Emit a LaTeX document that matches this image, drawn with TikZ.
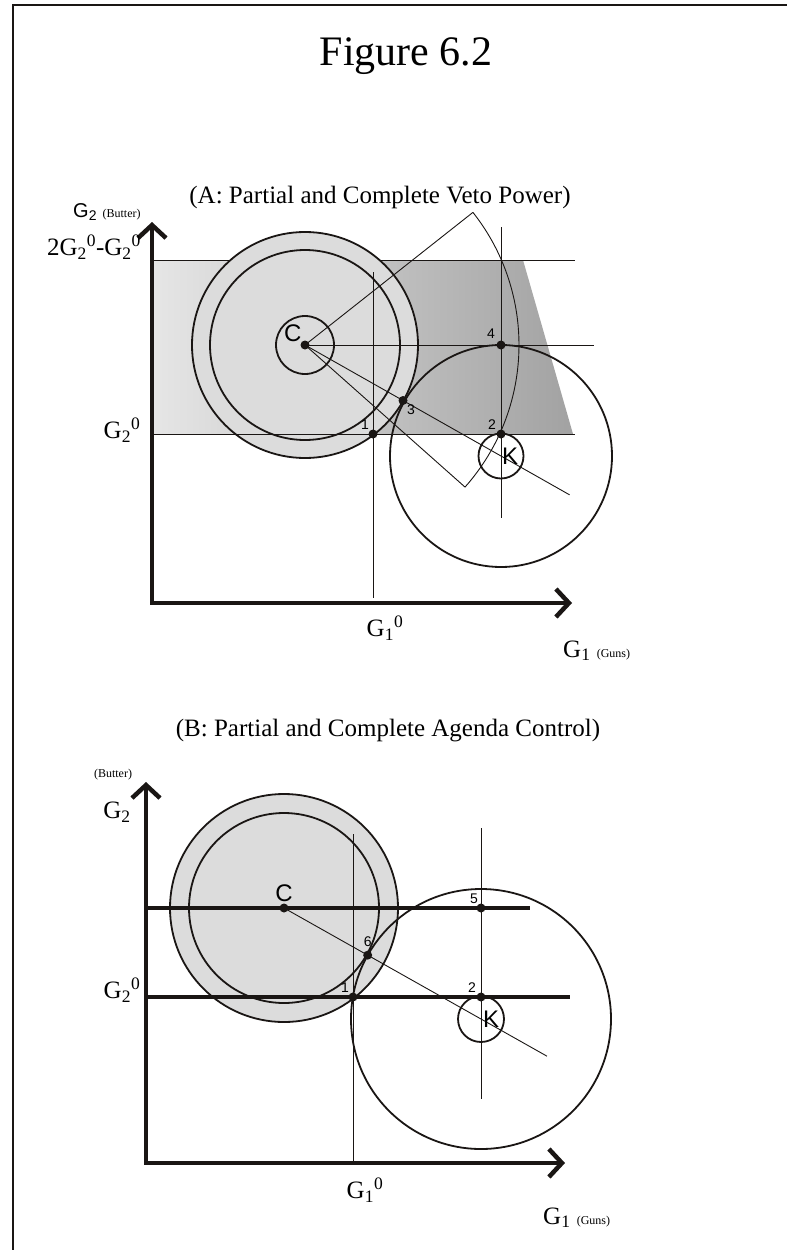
\documentclass[tikz,border=0pt]{standalone}
\usepackage{fontspec}
\setmainfont{Liberation Serif}
\setsansfont{Liberation Sans}
\usetikzlibrary{arrows.meta,calc,positioning}
\definecolor{ink}{HTML}{1A1614}
\definecolor{disc}{HTML}{DCDCDC}
\definecolor{bandlo}{HTML}{E6E6E6}
\definecolor{bandhi}{HTML}{A2A2A2}
\newcommand\gzero[1]{G\textsubscript{#1}\textsuperscript{0}}
\begin{document}
\begin{tikzpicture}[x=1pt,y=-1pt,
  axis/.style={draw=ink,line width=4.5pt,line join=miter,{Straight Barb[length=13pt,width=28pt]}-{Straight Barb[length=13pt,width=28pt]}},
  thinline/.style={draw=ink,line width=0.9pt},
  rim/.style={draw=ink,line width=1.8pt},
  heavy/.style={draw=ink,line width=4pt},
  dot/.style={circle,fill=ink,inner sep=0pt,minimum size=9pt},
  num/.style={font=\sffamily\fontsize{14}{16}\selectfont,inner sep=0.5pt},
  letter/.style={font=\sffamily\fontsize{24}{28}\selectfont,inner sep=0pt},
  glabel/.style={font=\fontsize{25}{30}\selectfont,inner sep=0pt},
  smalltext/.style={font=\fontsize{12}{14}\selectfont,inner sep=0pt}]
\useasboundingbox (0,0) rectangle (787,1250);
% frame
\coordinate (fb) at (13,1250); \coordinate (fl) at (13,5); \coordinate (fr) at (787,5);
\draw[ink,line width=2.5pt] (fb) -- (fl) -- (fr);
\node[font=\fontsize{42}{48}\selectfont,anchor=base] (title) at (406,65) {Figure 6.2};
\node[font=\fontsize{25}{30}\selectfont,anchor=base] (subA) at (380,203) {(A: Partial and Complete Veto Power)};
\node[font=\fontsize{25}{30}\selectfont,anchor=base] (subB) at (388,736) {(B: Partial and Complete Agenda Control)};

% ---------- panel A ----------
\coordinate (CA) at (305,345);
\coordinate (KA) at (501,456);
\shade[left color=bandlo,right color=bandhi] (152,260) -- (523,260) -- (573,434) -- (152,434) -- cycle;
\coordinate (topl) at (152,260); \coordinate (topr) at (575,260);
\draw[thinline] (topl) -- (topr);
\filldraw[rim,fill=disc] (CA) circle[radius=113];
\draw[rim] (CA) circle[radius=95];
\draw[rim] (CA) circle[radius=29];
\coordinate (botl) at (152,434); \coordinate (botr) at (575,434);
\draw[thinline] (botl) -- (botr);
\coordinate (hA) at (594,345);
\draw[thinline] (CA) -- (hA);
\coordinate (vat) at (373,272); \coordinate (vab) at (373,598);
\draw[thinline] (vat) -- (vab);
\coordinate (vkt) at (501,227); \coordinate (vkb) at (501,518);
\draw[thinline] (vkt) -- (vkb);
\coordinate (qa) at ($(CA)+(-38.3:214)$);
\coordinate (qb) at ($(CA)+(41.6:214)$);
\draw[thinline] (qa) -- (CA) -- (qb) arc[start angle=41.6,end angle=-38.3,radius=214];
\draw[thinline] (CA) -- ($(CA)!1.35!(KA)$);
\draw[rim] (KA) circle[radius=111];
\draw[rim] (KA) circle[radius=22.5];
\node[dot] (dCA) at (CA) {};
\node[dot] (d1A) at (373,434) {};
\node[dot] (d2A) at (501,434) {};
\node[dot] (d3A) at ($(CA)!0.5!(KA)$) {};
\node[dot] (d4A) at (501,345) {};
\node[letter,above left=0pt and 0pt of dCA] {C};
\node[letter] at ($(KA)+(9,0)$) {K};
\node[num,above left=0pt and 0pt of d1A] {1};
\node[num,above left=0pt and 1pt of d2A] {2};
\node[num,below right=0pt and 0pt of d3A] {3};
\node[num,above left=2pt and 2pt of d4A] {4};
\coordinate (yA) at (152,222); \coordinate (xA) at (572,603);
\draw[axis] (yA) |- (xA);
\node[anchor=base west,inner sep=0pt] (g2A) at (73,217) {\sffamily\fontsize{20}{24}\selectfont G\textsubscript{2} {\rmfamily\fontsize{12}{14}\selectfont (Butter)}};
\node[glabel] (twoA) at (94,247) {2\gzero{2}-\gzero{2}};
\node[glabel] (g20A) at (122,430) {\gzero{2}};
\node[glabel] (g10A) at (385,628) {\gzero{1}};
\node[anchor=base west,inner sep=0pt] (g1A) at (563,657) {\fontsize{25}{30}\selectfont G\textsubscript{1} {\fontsize{12}{14}\selectfont (Guns)}};

% ---------- panel B ----------
\coordinate (CB) at (284,908);
\coordinate (KB) at (481,1019);
\filldraw[rim,fill=disc] (CB) circle[radius=114];
\draw[rim] (CB) circle[radius=95];
\coordinate (l5l) at (146,908); \coordinate (l5r) at (530,908);
\draw[heavy] (l5l) -- (l5r);
\coordinate (l2l) at (146,997); \coordinate (l2r) at (570,997);
\draw[heavy] (l2l) -- (l2r);
\coordinate (vbt) at (353,834); \coordinate (vbb) at (353,1163);
\draw[thinline] (vbt) -- (vbb);
\coordinate (vct) at (481,828); \coordinate (vcb) at (481,1099);
\draw[thinline] (vct) -- (vcb);
\draw[thinline] (CB) -- ($(CB)!1.335!(KB)$);
\draw[rim] (KB) circle[radius=130];
\draw[rim] (KB) circle[radius=23];
\node[dot] (dCB) at (CB) {};
\node[dot] (d1B) at (353,997) {};
\node[dot] (d2B) at (481,997) {};
\node[dot] (d5B) at (481,908) {};
\node[dot] (d6B) at ($(CB)!96/226!(KB)$) {};
\node[letter,above=1pt of dCB] {C};
\node[letter] at ($(KB)+(10,0)$) {K};
\node[num,above left=0pt and 0pt of d1B] {1};
\node[num,above left=0pt and 1pt of d2B] {2};
\node[num,above left=0pt and -1pt of d5B] {5};
\node[num,above=3pt of d6B] {6};
\coordinate (yB) at (146,782); \coordinate (xB) at (565,1163);
\draw[axis] (yB) |- (xB);
\node[smalltext] (buttB) at (113,775) {(Butter)};
\node[glabel] (g2B) at (117,812) {G\textsubscript{2}};
\node[glabel] (g20B) at (122,990) {\gzero{2}};
\node[glabel] (g10B) at (365,1190) {\gzero{1}};
\node[anchor=base west,inner sep=0pt] (g1B) at (543,1224) {\fontsize{25}{30}\selectfont G\textsubscript{1} {\fontsize{12}{14}\selectfont (Guns)}};
\end{tikzpicture}
\end{document}
